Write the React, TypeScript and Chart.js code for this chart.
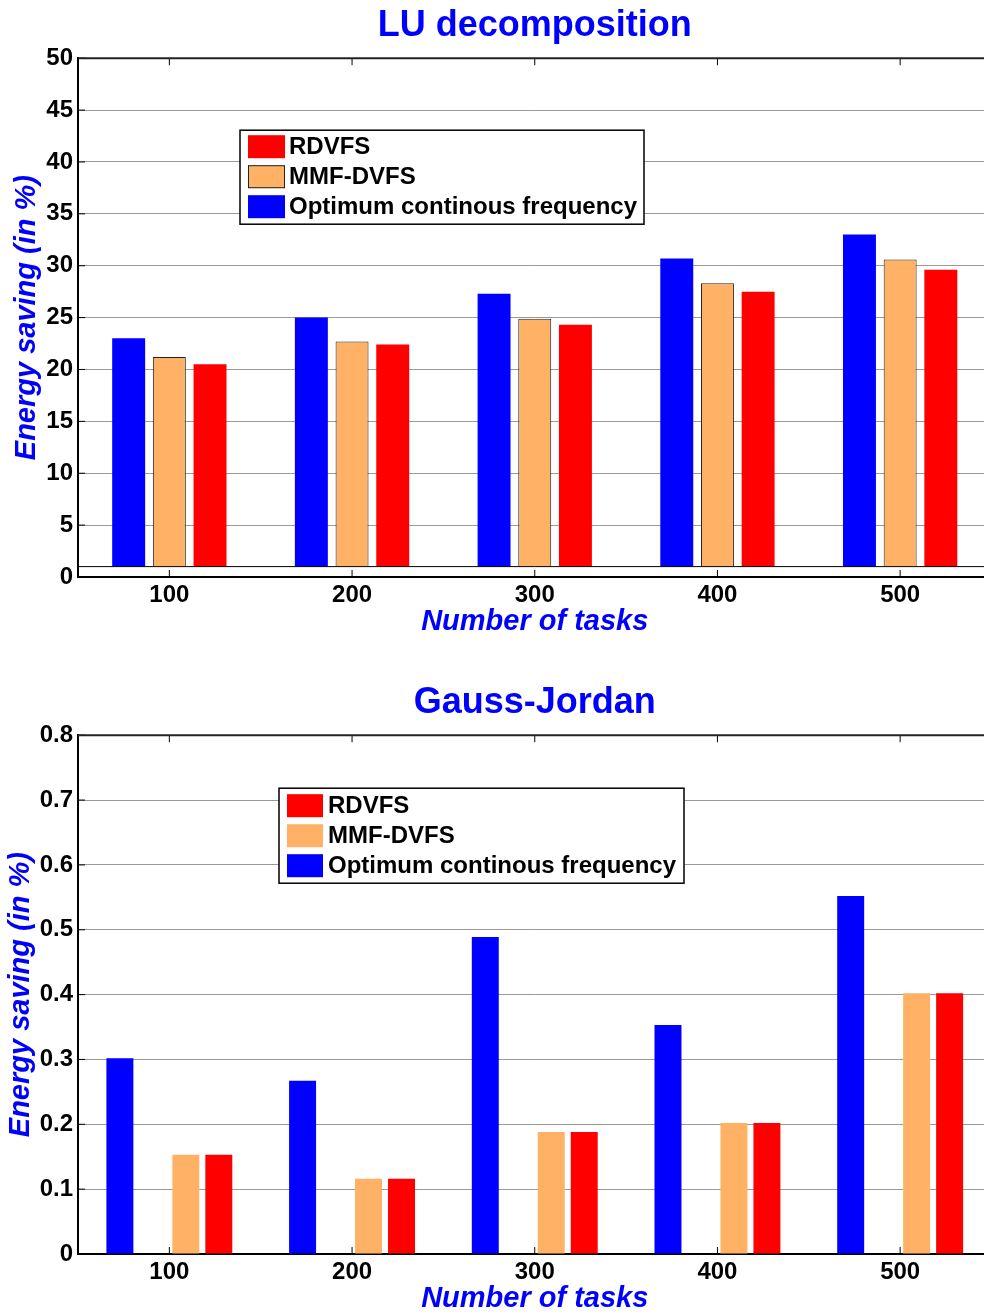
import React, { useEffect, useRef } from "react";
import { Chart, registerables } from "chart.js";

Chart.register(...registerables);

const FONT = "'Liberation Sans', Arial, Helvetica, sans-serif";

// ---------- data ----------
const categories = ["100", "200", "300", "400", "500"];

// LU decomposition
const luOptimum = [23.0, 25.0, 27.3, 30.7, 33.0];
const luMMF = [21.2, 22.7, 24.9, 28.3, 30.6];
const luRDVFS = [20.5, 22.4, 24.3, 27.5, 29.6];
const luBase = 1;
const luYTicks = [0, 5, 10, 15, 20, 25, 30, 35, 40, 45, 50];

// Gauss-Jordan
const gjOptimum = [0.302, 0.267, 0.489, 0.353, 0.552];
const gjGap = [null, null, null, null, null];
const gjMMF = [0.153, 0.116, 0.188, 0.202, 0.402];
const gjRDVFS = [0.153, 0.116, 0.188, 0.202, 0.402];
const gjYTicks = [0, 0.1, 0.2, 0.3, 0.4, 0.5, 0.6, 0.7, 0.8];

const BLUE = "#0000ff";
const ORANGE = "#ffb266";
const RED = "#ff0000";

// ---------- decoration plugin ----------
const decorPlugin = {
  id: "decor",
  afterDatasetsDraw(chart: any, _args: any, opts: any) {
    const ctx = chart.ctx;
    const ca = chart.chartArea;
    const xs = chart.scales.x;
    const ys = chart.scales.y;
    const line = (x1: number, y1: number, x2: number, y2: number) => {
      ctx.beginPath();
      ctx.moveTo(x1, y1);
      ctx.lineTo(x2, y2);
      ctx.stroke();
    };
    ctx.save();
    if (opts.baseline !== undefined && opts.baseline !== null) {
      const yb = ys.getPixelForValue(opts.baseline);
      ctx.strokeStyle = "#000";
      ctx.lineWidth = 1;
      line(ca.left, yb, ca.right, yb);
    }
    // inside tick marks
    const tl = 7;
    ctx.strokeStyle = "#000";
    ctx.lineWidth = 1;
    ys.ticks.forEach((t: any) => {
      const y = ys.getPixelForValue(t.value);
      line(ca.left, y, ca.left + tl, y);
      line(ca.right - tl, y, ca.right, y);
    });
    xs.ticks.forEach((_t: any, i: number) => {
      const x = xs.getPixelForTick(i);
      line(x, ca.top, x, ca.top + tl);
      line(x, ca.bottom, x, ca.bottom - tl);
    });
    // top border
    ctx.strokeStyle = "#222";
    ctx.lineWidth = 2;
    line(ca.left, ca.top, ca.right, ca.top);
    ctx.restore();
  },
  afterDraw(chart: any, _args: any, opts: any) {
    const L = opts.legend;
    if (!L) return;
    const ctx = chart.ctx;
    const ca = chart.chartArea;
    const bx = ca.left + L.left;
    const by = ca.top + L.top;
    ctx.save();
    ctx.fillStyle = "#fff";
    ctx.fillRect(bx, by, L.width, L.height);
    ctx.strokeStyle = "#000";
    ctx.lineWidth = 1.5;
    ctx.strokeRect(bx, by, L.width, L.height);
    L.order.forEach((di: number, k: number) => {
      const ds = chart.data.datasets[di];
      const cy = by + L.firstRow + k * L.rowPitch;
      ctx.fillStyle = ds.backgroundColor;
      ctx.fillRect(bx + L.swatchX, cy - L.swatchH / 2, L.swatchW, L.swatchH);
      if (ds.borderWidth) {
        ctx.strokeStyle = ds.borderColor;
        ctx.lineWidth = 1;
        ctx.strokeRect(bx + L.swatchX + 0.5, cy - L.swatchH / 2 + 0.5, L.swatchW - 1, L.swatchH - 1);
      }
      ctx.fillStyle = "#000";
      ctx.font = `bold 24px ${FONT}`;
      ctx.textBaseline = "middle";
      ctx.textAlign = "left";
      ctx.fillText(ds.label, bx + L.textX, cy + 1);
    });
    ctx.restore();
  },
};

function makeConfig(p: {
  title: string;
  datasets: any[];
  yTicks: number[];
  catPct: number;
  barPct: number;
  yTitlePad: number;
  baseline?: number;
  legend: any;
}): any {
  return {
    type: "bar",
    data: { labels: categories, datasets: p.datasets },
    plugins: [decorPlugin],
    options: {
      responsive: false,
      animation: false,
      devicePixelRatio: 1,
      layout: { padding: { left: 0, right: 8.5, top: 0, bottom: 0 } },
      datasets: {
        bar: { categoryPercentage: p.catPct, barPercentage: p.barPct },
      },
      plugins: {
        legend: { display: false },
        tooltip: { enabled: false },
        title: {
          display: true,
          text: p.title,
          color: BLUE,
          fullSize: false,
          font: { family: FONT, size: 36, weight: "bold" },
          padding: { top: 4.5, bottom: 10.5 },
        },
        decor: { baseline: p.baseline, legend: p.legend },
      },
      scales: {
        x: {
          type: "category",
          offset: true,
          grid: { display: false, drawTicks: false },
          border: { display: true, color: "#000", width: 2 },
          ticks: {
            color: "#000",
            font: { family: FONT, size: 24, weight: "bold", lineHeight: 1 },
            padding: 6,
            maxRotation: 0,
            autoSkip: false,
          },
          title: {
            display: true,
            text: "Number of tasks",
            color: BLUE,
            font: { family: FONT, size: 29, weight: "bold", style: "italic" },
            padding: { top: 0, bottom: 8 },
          },
          afterFit: (s: any) => {
            s.height = 70;
          },
        },
        y: {
          type: "linear",
          min: p.yTicks[0],
          max: p.yTicks[p.yTicks.length - 1],
          afterBuildTicks: (s: any) => {
            s.ticks = p.yTicks.map((v) => ({ value: v }));
          },
          grid: { color: "#9a9a9a", lineWidth: 1, drawTicks: false },
          border: { display: true, color: "#000", width: 2 },
          ticks: {
            color: "#000",
            font: { family: FONT, size: 24, weight: "bold" },
            padding: 5,
            callback: (v: any) => String(v),
          },
          title: {
            display: true,
            text: "Energy saving (in %)",
            color: BLUE,
            font: { family: FONT, size: 29, weight: "bold", style: "italic" },
            padding: { top: p.yTitlePad, bottom: 0 },
          },
          afterFit: (s: any) => {
            s.width = 78;
          },
        },
      },
    },
  };
}

function ChartCanvas({ top, config }: { top: number; config: () => any }) {
  const ref = useRef<HTMLCanvasElement>(null);
  useEffect(() => {
    const chart = new Chart(ref.current as HTMLCanvasElement, config());
    return () => chart.destroy();
  }, []);
  return (
    <canvas
      ref={ref}
      width={1000}
      height={647}
      style={{ position: "absolute", left: 0, top, width: 1000, height: 647 }}
    />
  );
}

const luConfig = () =>
  makeConfig({
    title: "LU decomposition",
    yTicks: luYTicks,
    catPct: 0.668,
    barPct: 0.81,
    yTitlePad: 10,
    baseline: luBase,
    datasets: [
      { label: "Optimum continous frequency", data: luOptimum, backgroundColor: BLUE, borderWidth: 0, base: luBase },
      { label: "MMF-DVFS", data: luMMF, backgroundColor: ORANGE, borderColor: "#222", borderWidth: 1, base: luBase },
      { label: "RDVFS", data: luRDVFS, backgroundColor: RED, borderWidth: 0, base: luBase },
    ],
    legend: {
      left: 162, top: 72, width: 404, height: 94,
      firstRow: 16.5, rowPitch: 30,
      swatchX: 8, swatchW: 37, swatchH: 23, textX: 49,
      order: [2, 1, 0],
    },
  });

const gjConfig = () =>
  makeConfig({
    title: "Gauss-Jordan",
    yTicks: gjYTicks,
    catPct: 0.722,
    barPct: 0.818,
    yTitlePad: 4,
    datasets: [
      { label: "Optimum continous frequency", data: gjOptimum, backgroundColor: BLUE, borderWidth: 0 },
      { label: "", data: gjGap, backgroundColor: "rgba(0,0,0,0)", borderWidth: 0 },
      { label: "MMF-DVFS", data: gjMMF, backgroundColor: ORANGE, borderWidth: 0 },
      { label: "RDVFS", data: gjRDVFS, backgroundColor: RED, borderWidth: 0 },
    ],
    legend: {
      left: 201, top: 53, width: 405, height: 95,
      firstRow: 17.5, rowPitch: 30,
      swatchX: 8, swatchW: 36, swatchH: 23, textX: 49,
      order: [3, 2, 0],
    },
  });

export default function App() {
  return (
    <div
      style={{
        position: "absolute",
        left: 0,
        top: 0,
        width: 984,
        height: 1315,
        overflow: "hidden",
        background: "#fff",
      }}
    >
      <ChartCanvas top={0} config={luConfig} />
      <ChartCanvas top={677} config={gjConfig} />
    </div>
  );
}
